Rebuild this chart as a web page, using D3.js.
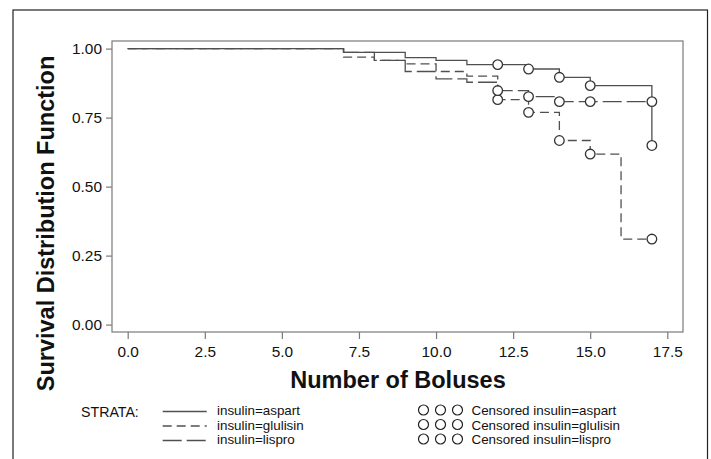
<!DOCTYPE html>
<html>
<head>
<meta charset="utf-8">
<script src="https://cdn.jsdelivr.net/npm/d3@7"></script>
<style>
  body { margin: 0; background: #fff; }
  text { font-family: "Liberation Sans", Arial, Helvetica, sans-serif; fill: #111; }
</style>
</head>
<body>
<div id="chart"></div>
<script>
// step data
var aspartTime = [0, 7, 9, 10, 11, 13, 14, 15, 17];
var aspartSurv = [1, 0.986, 0.967, 0.957, 0.942, 0.926, 0.896, 0.866, 0.649];
var glulisinTime = [0, 7, 8, 9, 10, 11, 12, 13, 14, 15, 16, 17];
var glulisinSurv = [1, 0.969, 0.957, 0.945, 0.917, 0.900, 0.815, 0.769, 0.667, 0.618, 0.31, 0.31];
var lisproTime = [0, 7, 8, 9, 10, 11, 12, 13, 14, 17];
var lisproSurv = [1, 0.986, 0.957, 0.917, 0.890, 0.878, 0.848, 0.826, 0.808, 0.808];

// censored marks
var censTime = [12, 13, 14, 15, 17];
var aspartCens = [0.942, 0.926, 0.896, 0.866, 0.649];
var glulisinCens = [0.815, 0.769, 0.667, 0.618, 0.31];
var lisproCens = [0.848, 0.826, 0.808, 0.808, 0.808];

var xTicks = [0, 2.5, 5, 7.5, 10, 12.5, 15, 17.5];
var yTicks = [0, 0.25, 0.5, 0.75, 1];
var strataNames = ['insulin=aspart', 'insulin=glulisin', 'insulin=lispro'];
var dashes = [null, '9,5', '19,5'];

var width = 711, height = 459;
var svg = d3.select('#chart').append('svg')
    .attr('width', width).attr('height', height);

// outer frame
svg.append('rect')
    .attr('x', 13).attr('y', 10).attr('width', 694.5).attr('height', 470)
    .attr('fill', 'none').attr('stroke', '#222').attr('stroke-width', 1.2);

var x = d3.scaleLinear().domain([0, 17.5]).range([127.7, 667.3]);
var y = d3.scaleLinear().domain([0, 1]).range([324.6, 48.6]);

// plot box
svg.append('rect')
    .attr('x', 112).attr('y', 41).attr('width', 571).attr('height', 291)
    .attr('fill', 'none').attr('stroke', '#7a7a7a').attr('stroke-width', 1.2);

var xAxis = svg.append('g')
    .attr('transform', 'translate(0,332)')
    .call(d3.axisBottom(x).tickValues(xTicks).tickFormat(d3.format('.1f')).tickSize(7).tickPadding(6));
var yAxis = svg.append('g')
    .attr('transform', 'translate(112,0)')
    .call(d3.axisLeft(y).tickValues(yTicks).tickFormat(d3.format('.2f')).tickSize(6).tickPadding(4));

[xAxis, yAxis].forEach(function(g) {
  g.select('.domain').remove();
  g.selectAll('.tick line').attr('stroke', '#7a7a7a').attr('stroke-width', 1.2);
  g.selectAll('.tick text').style('font-size', '15.4px').attr('fill', '#111');
});
xAxis.selectAll('.tick text').attr('dy', '0.78em');

// axis titles
svg.append('text')
    .attr('x', 398).attr('y', 388)
    .attr('text-anchor', 'middle')
    .style('font-size', '23.5px').style('font-weight', 'bold')
    .text('Number of Boluses');
svg.append('text')
    .attr('transform', 'translate(54,223.5) rotate(-90)')
    .attr('text-anchor', 'middle')
    .style('font-size', '23.5px').style('font-weight', 'bold')
    .text('Survival Distribution Function');

// step curves
var line = d3.line()
    .x(function(d) { return x(d[0]); })
    .y(function(d) { return y(d[1]); })
    .curve(d3.curveStepAfter);

var curves = [
  d3.zip(aspartTime, aspartSurv),
  d3.zip(glulisinTime, glulisinSurv),
  d3.zip(lisproTime, lisproSurv)
];
var cens = [
  d3.zip(censTime, aspartCens),
  d3.zip(censTime, glulisinCens),
  d3.zip(censTime, lisproCens)
];

curves.forEach(function(c, i) {
  svg.append('path')
      .attr('d', line(c))
      .attr('fill', 'none')
      .attr('stroke', '#505050')
      .attr('stroke-width', 1.3)
      .attr('stroke-dasharray', dashes[i]);
});

cens.forEach(function(c) {
  svg.selectAll(null)
      .data(c)
    .enter().append('circle')
      .attr('cx', function(d) { return x(d[0]); })
      .attr('cy', function(d) { return y(d[1]); })
      .attr('r', 4.8)
      .attr('fill', '#fff')
      .attr('stroke', '#333')
      .attr('stroke-width', 1.3);
});

// legend
svg.append('text')
    .attr('x', 81).attr('y', 417)
    .style('font-size', '14.2px')
    .text('STRATA:');

var rowY = [415, 429.5, 444];
strataNames.forEach(function(name, i) {
  svg.append('line')
      .attr('x1', 162.7).attr('x2', 206.7)
      .attr('y1', rowY[i] - 3.5).attr('y2', rowY[i] - 3.5)
      .attr('stroke', '#505050').attr('stroke-width', 1.3)
      .attr('stroke-dasharray', dashes[i]);
  svg.append('text')
      .attr('x', 217).attr('y', rowY[i])
      .style('font-size', '13.4px')
      .text(name);

  [423.5, 440.5, 457.5].forEach(function(cx) {
    svg.append('circle')
        .attr('cx', cx).attr('cy', rowY[i] - 5)
        .attr('r', 5)
        .attr('fill', 'none').attr('stroke', '#222').attr('stroke-width', 1.2);
  });
  svg.append('text')
      .attr('x', 471.5).attr('y', rowY[i])
      .style('font-size', '13.4px')
      .text('Censored ' + name);
});
</script>
</body>
</html>
